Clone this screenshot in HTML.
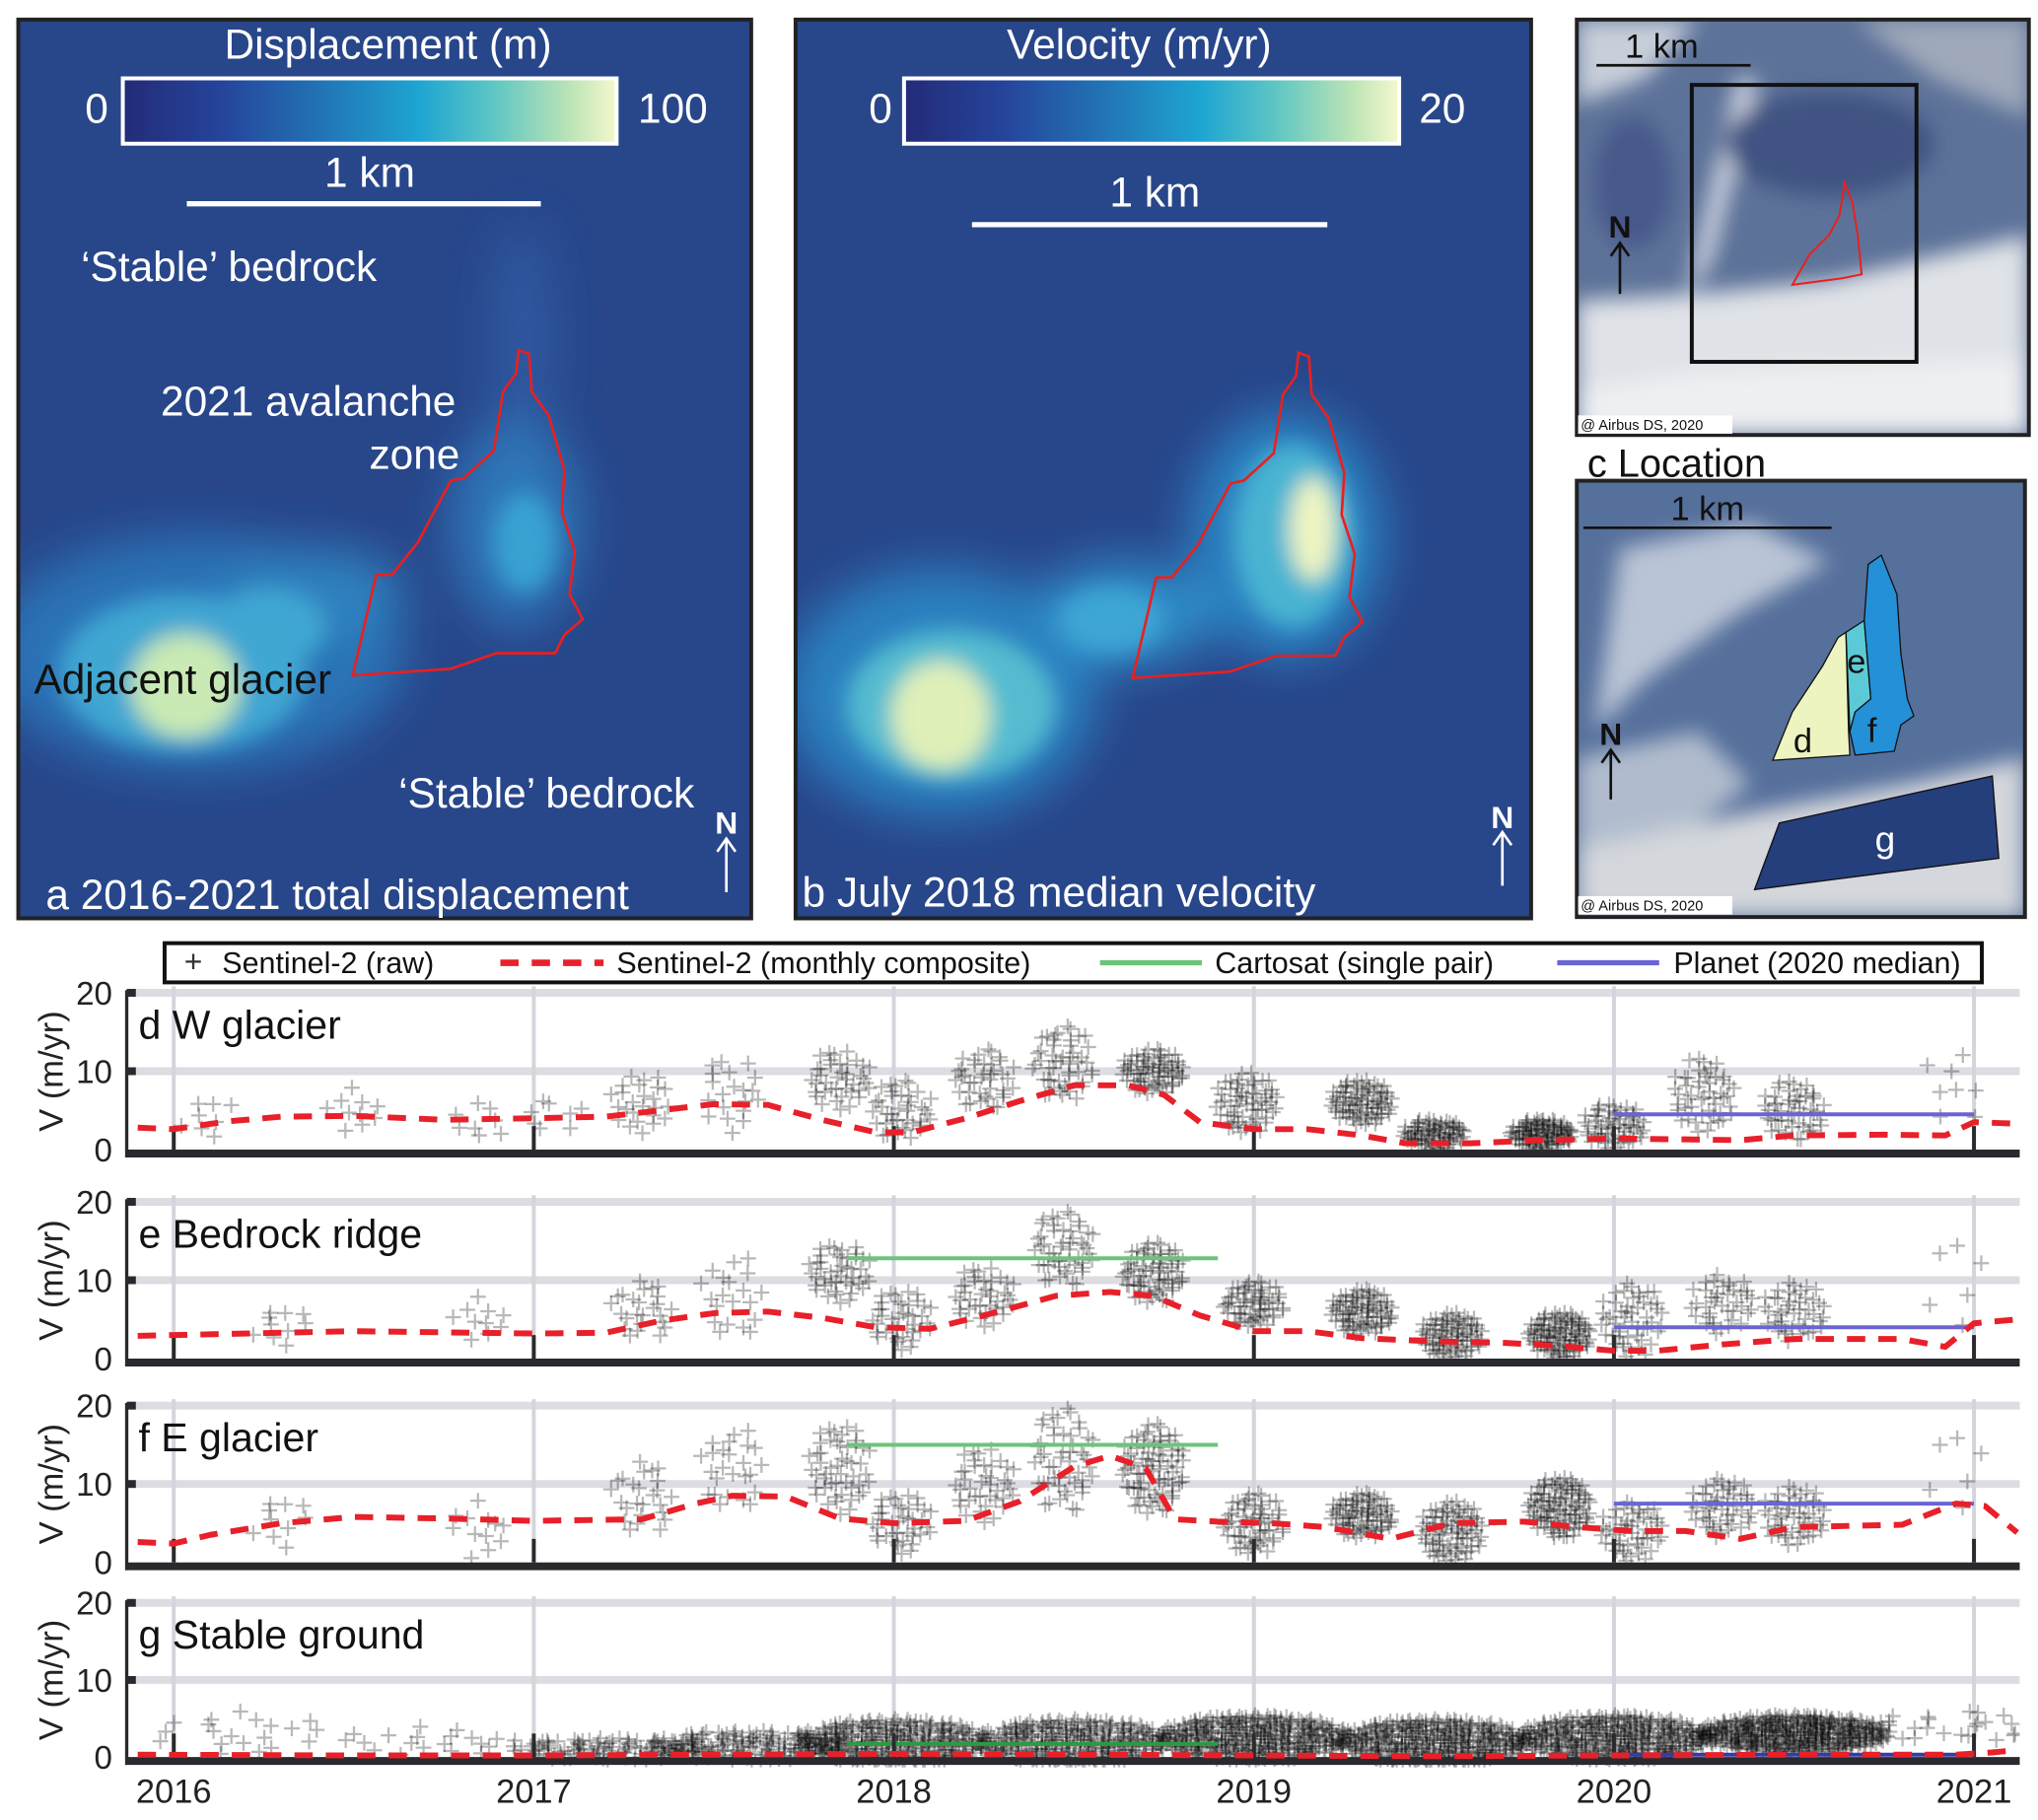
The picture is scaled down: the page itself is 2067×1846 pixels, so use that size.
<!DOCTYPE html>
<html><head><meta charset="utf-8"><style>
html,body{margin:0;padding:0;background:#fff;}
svg{display:block;font-family:"Liberation Sans",sans-serif;}
</style></head><body>
<svg id="fig" width="2067" height="1846" viewBox="0 0 2067 1846">
<defs>
<filter id="blur1" x="-50%" y="-50%" width="200%" height="200%"><feGaussianBlur stdDeviation="18"/></filter>
<filter id="blur2" x="-50%" y="-50%" width="200%" height="200%"><feGaussianBlur stdDeviation="8"/></filter>
<linearGradient id="cbar" x1="0" x2="1" y1="0" y2="0">
<stop offset="0" stop-color="#232b78"/><stop offset="0.2" stop-color="#25449a"/><stop offset="0.4" stop-color="#2273b5"/>
<stop offset="0.6" stop-color="#1ea5d2"/><stop offset="0.75" stop-color="#5ec6c4"/><stop offset="0.9" stop-color="#b9e3b6"/><stop offset="1" stop-color="#f5f8cc"/>
</linearGradient>
<clipPath id="clipA"><rect x="14" y="15" width="561" height="688"/></clipPath>
<clipPath id="clipB"><rect x="609" y="15" width="563" height="688"/></clipPath>
<clipPath id="clipC1"><rect x="1207" y="15" width="346" height="318"/></clipPath>
<clipPath id="clipC2"><rect x="1207" y="368" width="343" height="334"/></clipPath>
</defs>
<g transform="scale(1.325)">
<!-- Panel a -->
<g>
<g clip-path="url(#clipA)">
<rect x="14" y="15" width="561" height="688" fill="#28468a"/>
<g filter="url(#blur1)">
<ellipse cx="400" cy="260" rx="25" ry="90" fill="#2f58a0"/>
<ellipse cx="150" cy="500" rx="160" ry="90" fill="#2c72b6"/>
<ellipse cx="240" cy="455" rx="70" ry="35" fill="#2e82c0"/>
<ellipse cx="395" cy="400" rx="50" ry="80" fill="#2d76b8"/>
</g>
<g filter="url(#blur2)">
<ellipse cx="140" cy="515" rx="95" ry="60" fill="#3fa6d2"/>
<ellipse cx="205" cy="480" rx="45" ry="30" fill="#3fa6d2"/>
<ellipse cx="142" cy="525" rx="42" ry="40" fill="#c9eab4"/>
<ellipse cx="402" cy="415" rx="24" ry="38" fill="#39a2d2"/>
</g>
</g>
<rect x="14" y="15" width="561" height="688" fill="none" stroke="#222" stroke-width="3"/>
<text x="297" y="45" font-size="32" fill="#fff" text-anchor="middle">Displacement (m)</text>
<rect x="94" y="60" width="378" height="50" fill="url(#cbar)" stroke="#fff" stroke-width="3"/>
<text x="74" y="94" font-size="32" fill="#fff" text-anchor="middle">0</text>
<text x="515" y="94" font-size="32" fill="#fff" text-anchor="middle">100</text>
<line x1="143" x2="414" y1="156" y2="156" stroke="#fff" stroke-width="4"/>
<text x="283" y="143" font-size="32" fill="#fff" text-anchor="middle">1 km</text>
<text x="62" y="215" font-size="32" fill="#fff">‘Stable’ bedrock</text>
<text x="236" y="318" font-size="32" fill="#fff" text-anchor="middle">2021 avalanche</text>
<text x="352" y="359" font-size="32" fill="#fff" text-anchor="end">zone</text>
<text x="26" y="531" font-size="32" fill="#111">Adjacent glacier</text>
<text x="305" y="618" font-size="32" fill="#fff">‘Stable’ bedrock</text>
<text x="35" y="696" font-size="32" fill="#fff">a 2016-2021 total displacement</text>
<text x="556" y="638" font-size="24" font-weight="bold" fill="#fff" text-anchor="middle">N</text>
<path d="M556 683 V643 M549 652 L556 642 L563 652" stroke="#fff" stroke-width="2" fill="none"/>
<polygon points="397,268 405,271 407,300 420,318 432,360 430,392 440,422 436,455 446,474 432,486 425,500 380,500 345,512 270,517 288,440 300,440 320,415 345,368 355,366 378,345 385,300 395,286" fill="none" stroke="#e82020" stroke-width="2"/>
</g>
<!-- Panel b -->
<g>
<g clip-path="url(#clipB)">
<rect x="609" y="15" width="563" height="688" fill="#28468a"/>
<g filter="url(#blur1)">
<ellipse cx="720" cy="530" rx="120" ry="95" fill="#2c80c0"/>
<ellipse cx="860" cy="470" rx="70" ry="40" fill="#2e8cc8"/>
<ellipse cx="985" cy="410" rx="75" ry="95" fill="#2c82c2"/>
</g>
<g filter="url(#blur2)">
<ellipse cx="728" cy="540" rx="80" ry="58" fill="#55bcd0"/>
<ellipse cx="720" cy="548" rx="38" ry="42" fill="#dff0b8"/>
<ellipse cx="990" cy="410" rx="45" ry="70" fill="#4ab4d2"/>
<ellipse cx="1005" cy="405" rx="18" ry="40" fill="#eef5c2"/>
<ellipse cx="850" cy="475" rx="40" ry="25" fill="#3ca6d4"/>
</g>
</g>
<rect x="609" y="15" width="563" height="688" fill="none" stroke="#222" stroke-width="3"/>
<text x="872" y="45" font-size="32" fill="#fff" text-anchor="middle">Velocity (m/yr)</text>
<rect x="692" y="60" width="379" height="50" fill="url(#cbar)" stroke="#fff" stroke-width="3"/>
<text x="674" y="94" font-size="32" fill="#fff" text-anchor="middle">0</text>
<text x="1104" y="94" font-size="32" fill="#fff" text-anchor="middle">20</text>
<line x1="744" x2="1016" y1="172" y2="172" stroke="#fff" stroke-width="4"/>
<text x="884" y="158" font-size="32" fill="#fff" text-anchor="middle">1 km</text>
<text x="614" y="694" font-size="32" fill="#fff">b July 2018 median velocity</text>
<text x="1150" y="634" font-size="24" font-weight="bold" fill="#fff" text-anchor="middle">N</text>
<path d="M1150 678 V638 M1143 647 L1150 637 L1157 647" stroke="#fff" stroke-width="2" fill="none"/>
<polygon points="397,268 405,271 407,300 420,318 432,360 430,392 440,422 436,455 446,474 432,486 425,500 380,500 345,512 270,517 288,440 300,440 320,415 345,368 355,366 378,345 385,300 395,286" transform="translate(597,2)" fill="none" stroke="#e82020" stroke-width="2"/>
</g>
<!-- Panel c top -->
<g>
<g clip-path="url(#clipC1)">
<rect x="1207" y="15" width="346" height="318" fill="#5d7299"/>
<g filter="url(#blur2)">
<polygon points="1207,15 1300,15 1260,60 1207,80" fill="#c8cfda"/>
<polygon points="1420,15 1553,15 1553,90 1480,60" fill="#9fa9ba"/>
<polygon points="1330,60 1345,60 1310,200 1290,230" fill="#d8dde6"/>
<polygon points="1207,230 1300,225 1400,215 1553,180 1553,333 1207,333" fill="#dfe2e7"/>
<polygon points="1207,300 1300,285 1553,275 1553,333 1207,333" fill="#eef0f2"/>
<ellipse cx="1400" cy="110" rx="80" ry="40" fill="#3f5382"/>
<ellipse cx="1250" cy="140" rx="30" ry="50" fill="#47598a"/>
</g>
</g>
<rect x="1207" y="15" width="346" height="318" fill="none" stroke="#222" stroke-width="3"/>
<rect x="1295" y="65" width="172" height="212" fill="none" stroke="#111" stroke-width="3"/>
<polygon points="1412,140 1418,155 1422,180 1425,210 1410,213 1372,218 1385,195 1400,180 1408,165" fill="none" stroke="#e82020" stroke-width="1.5"/>
<line x1="1222" x2="1340" y1="50" y2="50" stroke="#111" stroke-width="2"/>
<text x="1272" y="44" font-size="26" fill="#111" text-anchor="middle">1 km</text>
<text x="1240" y="182" font-size="24" font-weight="bold" fill="#111" text-anchor="middle">N</text>
<path d="M1240 225 V186 M1233 196 L1240 186 L1247 196" stroke="#111" stroke-width="2" fill="none"/>
<rect x="1208" y="318" width="118" height="14" fill="#fff"/>
<text x="1210" y="329" font-size="11" fill="#111">@ Airbus DS, 2020</text>
</g>
<text x="1215" y="365" font-size="30" fill="#111">c Location</text>
<!-- Panel c bottom -->
<g>
<g clip-path="url(#clipC2)">
<rect x="1207" y="368" width="343" height="334" fill="#56709c"/>
<g filter="url(#blur2)">
<polygon points="1240,420 1340,400 1400,430 1330,470 1260,520 1220,560" fill="#b9c4d6"/>
<polygon points="1207,580 1300,560 1340,600 1260,660 1207,680" fill="#b0bccd"/>
<polygon points="1207,650 1350,620 1460,600 1550,580 1550,702 1207,702" fill="#d4d7dc"/>
</g>
</g>
<rect x="1207" y="368" width="343" height="334" fill="none" stroke="#222" stroke-width="3"/>
<line x1="1212" x2="1402" y1="404" y2="404" stroke="#111" stroke-width="2"/>
<text x="1307" y="398" font-size="26" fill="#111" text-anchor="middle">1 km</text>
<polygon points="1357,582 1372,545 1395,510 1407,488 1413,484 1415,560 1416,578" fill="#eef4c0" stroke="#111" stroke-width="1"/>
<polygon points="1413,484 1427,475 1432,535 1420,545 1416,560" fill="#5ccad6" stroke="#111" stroke-width="1"/>
<polygon points="1427,475 1430,432 1440,425 1452,455 1455,500 1460,535 1465,548 1455,555 1450,575 1420,578 1416,560 1420,545 1432,535" fill="#2490d8" stroke="#111" stroke-width="1"/>
<polygon points="1343,681 1362,630 1525,594 1530,657" fill="#253e7c" stroke="#111" stroke-width="1"/>
<text x="1380" y="576" font-size="26" fill="#111" text-anchor="middle">d</text>
<text x="1421" y="515" font-size="26" fill="#111" text-anchor="middle">e</text>
<text x="1433" y="568" font-size="26" fill="#111" text-anchor="middle">f</text>
<text x="1443" y="652" font-size="28" fill="#fff" text-anchor="middle">g</text>
<text x="1233" y="570" font-size="24" font-weight="bold" fill="#111" text-anchor="middle">N</text>
<path d="M1233 612 V574 M1226 584 L1233 574 L1240 584" stroke="#111" stroke-width="2" fill="none"/>
<rect x="1208" y="686" width="118" height="14" fill="#fff"/>
<text x="1210" y="697" font-size="11" fill="#111">@ Airbus DS, 2020</text>
</g>
<!-- Legend -->
<g>
<rect x="126" y="722" width="1391" height="30" fill="#fff" stroke="#111" stroke-width="3"/>
<g><text x="148" y="744" font-size="24" fill="#333" text-anchor="middle">+</text><text x="170" y="745" font-size="23" fill="#111">Sentinel-2 (raw)</text></g>
<g><line x1="383" x2="462" y1="737" y2="737" stroke="#e8202a" stroke-width="5" stroke-dasharray="14 10"/><text x="472" y="745" font-size="23" fill="#111">Sentinel-2 (monthly composite)</text></g>
<g><line x1="842" x2="920" y1="737" y2="737" stroke="#6cc47a" stroke-width="4"/><text x="930" y="745" font-size="23" fill="#111">Cartosat (single pair)</text></g>
<g><line x1="1192" x2="1270" y1="737" y2="737" stroke="#6a64d4" stroke-width="4"/><text x="1281" y="745" font-size="23" fill="#111">Planet (2020 median)</text></g>
</g>
<g id="charts"></g>
</g>
</svg>
<script>
const years = [2016, 2017, 2018, 2019, 2020, 2021];
const yTicks = [0, 10, 20];
const panelKeys = ['d', 'e', 'f', 'g'];
const panelTitles = ['d W glacier', 'e Bedrock ridge', 'f E glacier', 'g Stable ground'];

const compDates_d = [2015.9,2016.0,2016.15,2016.3,2016.5,2016.75,2017.0,2017.2,2017.35,2017.5,2017.65,2017.8,2017.95,2018.05,2018.2,2018.35,2018.5,2018.65,2018.75,2018.85,2019.0,2019.15,2019.3,2019.42,2019.6,2019.8,2020.0,2020.2,2020.35,2020.5,2020.75,2020.92,2021.0,2021.12];
const compVals_d  = [2.8,2.6,3.6,4.2,4.3,3.8,4.0,4.2,5.0,5.8,5.7,3.8,2.2,2.2,4.0,6.2,8.2,8.2,7.0,3.5,2.6,2.6,1.8,0.8,0.8,1.2,1.4,1.3,1.2,1.8,1.9,1.8,3.5,3.3];
const compDates_e = [2015.9,2016.0,2016.5,2017.0,2017.2,2017.35,2017.5,2017.65,2017.8,2017.95,2018.1,2018.25,2018.45,2018.6,2018.72,2018.85,2019.0,2019.15,2019.3,2019.5,2019.7,2019.85,2020.0,2020.12,2020.3,2020.5,2020.8,2020.92,2021.0,2021.12];
const compVals_e  = [2.9,3.0,3.5,3.2,3.3,4.8,5.8,6.0,5.2,4.0,3.8,5.5,8.0,8.5,8.0,5.5,3.5,3.5,2.6,2.2,2.0,1.6,1.0,1.0,1.8,2.5,2.5,1.5,4.5,5.0];
const compDates_f = [2015.9,2016.0,2016.1,2016.3,2016.5,2016.75,2017.0,2017.3,2017.45,2017.55,2017.7,2017.85,2018.0,2018.2,2018.35,2018.5,2018.6,2018.7,2018.78,2018.9,2019.05,2019.2,2019.38,2019.55,2019.75,2019.9,2020.05,2020.2,2020.35,2020.5,2020.8,2020.95,2021.03,2021.12];
const compVals_f  = [2.6,2.4,3.5,5.0,5.8,5.6,5.3,5.5,7.5,8.5,8.4,5.6,5.0,5.3,7.8,12.2,13.6,12.0,5.5,5.2,5.0,4.5,3.0,5.0,5.2,4.5,4.0,4.0,3.0,4.5,4.8,7.5,7.2,3.8];
const compDates_g = [2015.9,2016.5,2017.0,2017.5,2018.0,2018.5,2019.0,2019.5,2020.0,2020.5,2020.95,2021.05,2021.12];
const compVals_g  = [0.3,0.2,0.2,0.3,0.4,0.3,0.2,0.1,0.2,0.3,0.3,0.6,0.9];

const cartoStart = [null, 2017.87, 2017.87, 2017.87];
const cartoEnd   = [null, 2018.9, 2018.9, 2018.9];
const cartoVal   = [null, 12.8, 15.0, 1.7];
const planetStart = [2020.0, 2020.0, 2020.0, 2020.0];
const planetEnd   = [2021.0, 2021.0, 2021.0, 2021.0];
const planetVal   = [4.5, 4.0, 7.5, 0.3];

// raw Sentinel-2 clusters: date, centre velocity, velocity spread, count
const rawDate_d = [2016.1,2016.5,2016.85,2017.05,2017.3,2017.55,2017.85,2018.02,2018.25,2018.47,2018.72,2018.98,2019.3,2019.5,2019.8,2020.0,2020.25,2020.5,2020.95];
const rawVal_d  = [4,5,3,5,6,7,9,5,9,11,10,6,6,2,2,3,7,5,8];
const rawSpr_d  = [3,3,3,3,4,5,4,4,4,5,3,4,3,2,2,3,5,4,6];
const rawCnt_d  = [8,10,8,8,25,20,40,40,40,50,70,60,80,80,100,60,50,50,8];
const rawDate_e = [2016.3,2016.85,2017.3,2017.55,2017.85,2018.02,2018.25,2018.47,2018.72,2019.0,2019.3,2019.55,2019.85,2020.05,2020.3,2020.5,2020.95];
const rawVal_e  = [4,5,6,8,11,5,8,14,11,7,6,3,3,5,7,6,10];
const rawSpr_e  = [3,3,4,6,4,4,4,5,4,3,3,3,3,5,4,4,8];
const rawCnt_e  = [10,10,25,20,45,40,40,50,70,60,80,80,100,50,40,45,6];
const rawDate_f = [2016.3,2016.85,2017.3,2017.55,2017.85,2018.02,2018.25,2018.47,2018.72,2019.0,2019.3,2019.55,2019.85,2020.05,2020.3,2020.5,2020.95];
const rawVal_f  = [5,4,8,12,12,5,10,13,12,5,6,4,7,4,7,6,12];
const rawSpr_f  = [4,4,5,6,6,4,5,7,6,4,3,4,4,4,4,4,7];
const rawCnt_f  = [10,12,25,25,50,40,40,50,80,60,80,80,100,50,50,50,6];
const rawDate_g = [2016.2,2016.7,2017.2,2017.6,2018.0,2018.5,2019.0,2019.5,2020.0,2020.5,2020.95];
const rawVal_g  = [3,2,1,1.5,2,2,2.5,2,2.5,3,4];
const rawSpr_g  = [3,2,1.5,2,3,3,3,3,3,2.5,2];
const rawCnt_g  = [20,20,100,150,300,300,360,360,360,400,25];

const compDates = [compDates_d, compDates_e, compDates_f, compDates_g];
const compVals = [compVals_d, compVals_e, compVals_f, compVals_g];
const rawDate = [rawDate_d, rawDate_e, rawDate_f, rawDate_g];
const rawVal = [rawVal_d, rawVal_e, rawVal_f, rawVal_g];
const rawSpr = [rawSpr_d, rawSpr_e, rawSpr_f, rawSpr_g];
const rawCnt = [rawCnt_d, rawCnt_e, rawCnt_f, rawCnt_g];

const NS = 'http://www.w3.org/2000/svg';
const panelTop = [760, 920, 1076, 1227];
const panelBot = [880, 1040, 1196, 1345];
const xLeft = 97, xRight = 1546;
function xS(t) { return 133 + (t - 2016) * 275.6; }
function yS(v, p) { return panelBot[p] - v / 20 * (panelBot[p] - panelTop[p]); }
function halton(i, b) { let f = 1, r = 0; while (i > 0) { f /= b; r += f * (i % b); i = Math.floor(i / b); } return r; }
function mk(tag, attrs, parent) {
  const el = document.createElementNS(NS, tag);
  for (const k in attrs) el.setAttribute(k, attrs[k]);
  parent.appendChild(el);
  return el;
}
const root = document.getElementById('charts');
for (let p = 0; p < 4; p++) {
  const g = mk('g', {}, root);
  
  
  const clipId = 'cp' + p;
  const cp = mk('clipPath', {id: clipId}, g);
  mk('rect', {x: xLeft, y: panelTop[p] - 8, width: xRight - xLeft, height: panelBot[p] - panelTop[p] + 16}, cp);
  [10, 20].forEach(v => {
    const gl = mk('line', {x1: xLeft, x2: xRight, y1: yS(v, p), y2: yS(v, p), stroke: '#dcdce2', 'stroke-width': 6}, g);
    
    
  });
  years.forEach(yr => {
    const vl = mk('line', {x1: xS(yr), x2: xS(yr), y1: panelTop[p] - 5, y2: panelBot[p], stroke: '#d4d4dc', 'stroke-width': 3}, g);
    
    
  });
  const rg = mk('g', {'clip-path': 'url(#' + clipId + ')'}, g);
  
  
  for (let c = 0; c < rawDate[p].length; c++) {
    const n = rawCnt[p][c];
    const tw = p === 3 ? 0.27 : 0.09;
    for (let i = 0; i < n; i++) {
      const r = Math.sqrt(halton(i + 1 + c * 7, 2));
      const th = 2 * Math.PI * halton(i + 1 + c * 7, 3);
      const t = rawDate[p][c] + r * Math.cos(th) * tw;
      const v = rawVal[p][c] + r * Math.sin(th) * rawSpr[p][c];
      const x = xS(t), y = yS(v, p);
      const cr = mk('path', {d: `M${x-6} ${y}H${x+6}M${x} ${y-6}V${y+6}`, stroke: '#000', 'stroke-width': 1.7, 'stroke-opacity': 0.28, fill: 'none'}, rg);
      
      
    }
  }
  if (cartoVal[p] !== null) {
    const cl = mk('line', {x1: xS(cartoStart[p]), x2: xS(cartoEnd[p]), y1: yS(cartoVal[p], p), y2: yS(cartoVal[p], p), stroke: p === 3 ? '#2e9a40' : '#6cc47a', 'stroke-width': 3}, g);
    
    
  }
  const ax = mk('line', {x1: xLeft, x2: xRight, y1: panelBot[p] + 3, y2: panelBot[p] + 3, stroke: '#2a2a2e', 'stroke-width': 6}, g);
  
  
  const ay = mk('line', {x1: xLeft, x2: xLeft, y1: panelTop[p] - 2, y2: panelBot[p] + 6, stroke: '#2a2a2e', 'stroke-width': 2.5}, g);
  
  
  years.forEach(yr => {
    const tk = mk('line', {x1: xS(yr), x2: xS(yr), y1: panelBot[p] - 18, y2: panelBot[p], stroke: '#2a2a2e', 'stroke-width': 3}, g);
    
    
  });
  yTicks.forEach(v => {
    if (v > 0) {
      const tk = mk('line', {x1: xLeft, x2: xLeft + 7, y1: yS(v, p), y2: yS(v, p), stroke: '#2a2a2e', 'stroke-width': 6}, g);
      
      
    }
    const tl = mk('text', {x: 86, y: yS(v, p) + 9, 'font-size': 25, fill: '#222', 'text-anchor': 'end'}, g);
    tl.textContent = v;
    
    
  });
  const yl = mk('text', {x: 0, y: 0, 'font-size': 26, fill: '#222', 'text-anchor': 'middle', transform: `translate(48 ${(panelTop[p] + panelBot[p]) / 2}) rotate(-90)`}, g);
  yl.textContent = 'V (m/yr)';
  
  
  const pl = mk('line', {x1: xS(planetStart[p]), x2: xS(planetEnd[p]), y1: yS(planetVal[p], p), y2: yS(planetVal[p], p), stroke: p === 3 ? '#3a3aa0' : '#6a64d4', 'stroke-width': 3}, g);
  
  
  const pts = compDates[p].map((t, i) => `${xS(t).toFixed(1)},${yS(compVals[p][i], p).toFixed(1)}`).join(' ');
  const cl = mk('polyline', {points: pts, fill: 'none', stroke: '#e8202a', 'stroke-width': 4.5, 'stroke-dasharray': '14 10', 'stroke-linejoin': 'round', 'clip-path': 'url(#' + clipId + ')'}, g);
  
  
  const tt = mk('text', {x: 106, y: panelTop[p] + 35, 'font-size': 31, fill: '#111'}, g);
  tt.textContent = panelTitles[p];
  
  
}
years.forEach(yr => {
  const t = mk('text', {x: xS(yr), y: 1380, 'font-size': 26, fill: '#222', 'text-anchor': 'middle'}, root);
  t.textContent = yr;
  
  
});
</script>
</body></html>
